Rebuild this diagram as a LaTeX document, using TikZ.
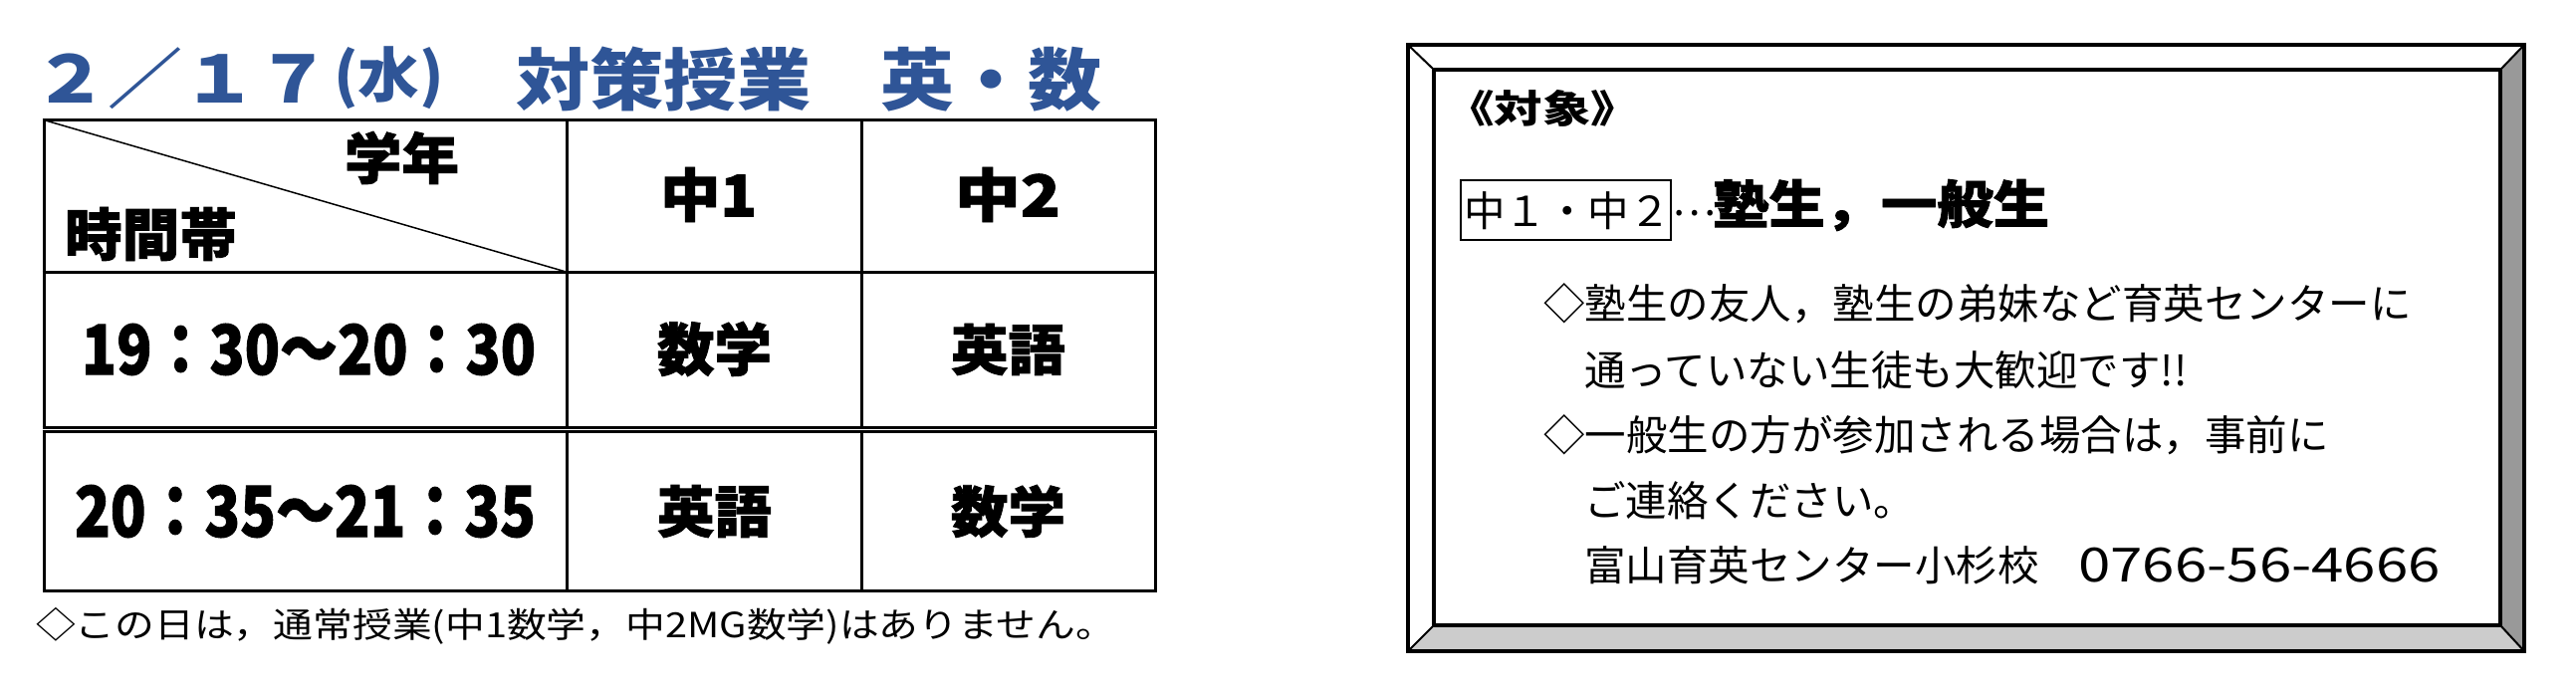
\documentclass[tikz,border=0pt]{standalone}
\usepackage{fontspec}
\usepackage{graphicx}
\setmainfont{Noto Sans CJK JP}
\newfontfamily\heavy{Noto Sans CJK JP}[BoldFeatures={FakeBold=1.5}]
\definecolor{titleblue}{RGB}{47,85,151}
\definecolor{bevdark}{RGB}{153,153,153}
\definecolor{bevlight}{RGB}{204,204,204}
\newcommand\fitbox[3]{\resizebox*{#1pt}{#2pt}{#3}}
\begin{document}
\begin{tikzpicture}[x=1pt,y=-1pt,
  txt/.style={inner sep=0pt,outer sep=0pt,anchor=west},
  body/.style={inner sep=0pt,outer sep=0pt,anchor=base west,font=\fontsize{41.5}{41.5}\selectfont},
  rule/.style={line width=3pt},
  thinrule/.style={line width=2.7pt}]
\useasboundingbox (0,0) rectangle (2587,693);
\fill[white] (0,0) rectangle (2587,693);

% ---------- title ----------
\node[txt,text=titleblue] (tA) at (33,79) {\fitbox{300}{62}{\bfseries ２／１７}};
\node[txt,text=titleblue] (tB) at (335,78.5) {\fitbox{111}{63}{\bfseries (水)}};
\node[txt,text=titleblue] (tC) at (518,79.5) {\fitbox{297}{65}{\bfseries 対策授業}};
\node[txt,text=titleblue] (tD) at (884,79.5) {\fitbox{222}{65}{\bfseries 英・数}};

% ---------- table ----------
\coordinate (TL) at (44,120.5);
\draw[rule] (42.5,120.5) -- (1161.5,120.5);
\draw[rule] (42.5,273.3) -- (1161.5,273.3);
\draw[thinrule] (42.5,429.7) -- (1161.5,429.7);
\draw[thinrule] (42.5,433.7) -- (1161.5,433.7);
\draw[rule] (42.5,593.3) -- (1161.5,593.3);
\foreach \cx in {44,569.5,865,1160}{
  \draw[rule] (\cx,120.5) -- (\cx,429.7);
  \draw[rule] (\cx,433.7) -- (\cx,593.3);
}
\coordinate (DG) at (569.5,273.3);
\draw[line width=1.5pt] (TL) -- (DG);

\node[txt] (hGakunen) at (346,158.5) {\fitbox{115}{53}{\heavy\bfseries 学年}};
\node[txt] (hJikan) at (65,235) {\fitbox{173}{54}{\heavy\bfseries 時間帯}};
\node[txt] (h1) at (663,195.5) {\fitbox{97}{55}{\heavy\bfseries 中1}};
\node[txt] (h2) at (959,195.5) {\fitbox{106}{55}{\heavy\bfseries 中2}};
\node[txt] (r1t) at (82,351) {\fitbox{456}{52}{\heavy\bfseries 19：30～20：30}};
\node[txt] (r2t) at (75,513.5) {\fitbox{463}{53}{\heavy\bfseries 20：35～21：35}};
\node[txt] (r1a) at (660,350.5) {\fitbox{115}{55}{\heavy\bfseries 数学}};
\node[txt] (r1b) at (955,351) {\fitbox{115}{52}{\heavy\bfseries 英語}};
\node[txt] (r2a) at (660,513.5) {\fitbox{115}{53}{\heavy\bfseries 英語}};
\node[txt] (r2b) at (955,513.5) {\fitbox{115}{53}{\heavy\bfseries 数学}};
\node[txt] (note) at (36,628.5) {\fitbox{1084}{37}{◇この日は，通常授業(中1数学，中2MG数学)はありません。}};

% ---------- bevelled frame ----------
\coordinate (OA) at (1414,45);
\coordinate (OB) at (2535,45);
\coordinate (OC) at (2535,654);
\coordinate (OD) at (1414,654);
\coordinate (IA) at (1440,70);
\coordinate (IB) at (2511,70);
\coordinate (IC) at (2511,628);
\coordinate (ID) at (1440,628);
\fill[bevdark] (IB) -- (OB) -- (OC) -- (IC) -- cycle;
\fill[bevlight] (ID) -- (IC) -- (OC) -- (OD) -- cycle;
\draw[line width=2pt] (OA) -- (IA) (OB) -- (IB) (OC) -- (IC) (OD) -- (ID);
\draw[line width=3.5pt] (OA) rectangle (OC);
\draw[line width=3.6pt] (IA) rectangle (IC);

\node[txt] (taisho) at (1452,108.5) {\fitbox{194}{37}{\bfseries 《対象》}};
\coordinate (tagA) at (1467,181);
\coordinate (tagB) at (1678,241);
\draw[line width=2.5pt] (tagA) rectangle (tagB);
\node[body] (tag) at (1470,227) {中１・中２};
\node[body] (dots) at (1679,216) {…};
\node[txt] (target) at (1720,206) {\fitbox{338}{52}{\heavy\bfseries 塾生，一般生}};
\node[body] (l1) at (1550,320) {◇塾生の友人，塾生の弟妹など育英センターに};
\node[body] (l2) at (1591,387) {通っていない生徒も大歓迎です!!};
\node[body] (l3) at (1550,452) {◇一般生の方が参加される場合は，事前に};
\node[body] (l4) at (1591,518) {ご連絡ください。};
\node[body] (l5) at (1591,583) {富山育英センター小杉校};
\node[txt] (tel) at (2087,567.5) {\fitbox{364}{35}{0766-56-4666}};
\end{tikzpicture}
\end{document}
